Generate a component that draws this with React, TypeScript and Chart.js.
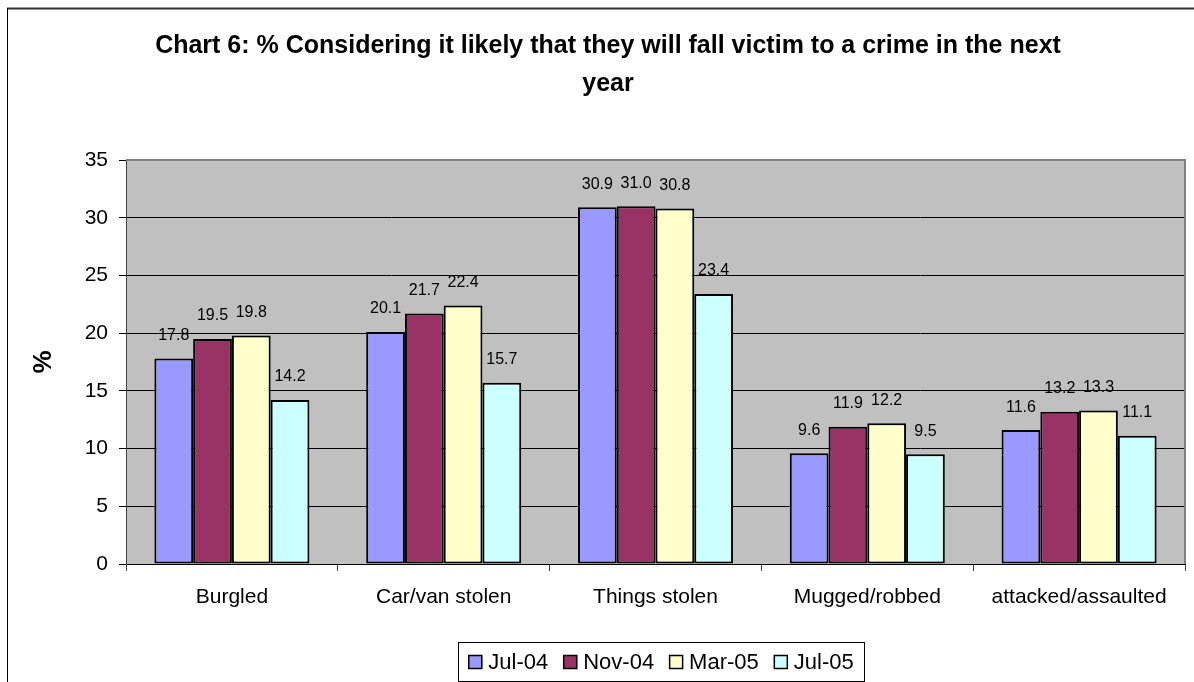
import React, { useEffect, useRef } from "react";
import { Chart, registerables } from "chart.js";

Chart.register(...registerables);

const categories = ["Burgled", "Car/van stolen", "Things stolen", "Mugged/robbed", "attacked/assaulted"];
const seriesNames = ["Jul-04", "Nov-04", "Mar-05", "Jul-05"];
const jul04 = [17.8, 20.1, 30.9, 9.6, 11.6];
const nov04 = [19.5, 21.7, 31.0, 11.9, 13.2];
const mar05 = [19.8, 22.4, 30.8, 12.2, 13.3];
const jul05 = [14.2, 15.7, 23.4, 9.5, 11.1];
const seriesColors = ["#9999FF", "#993366", "#FFFFCC", "#CCFFFF"];
const titleLines = ["Chart 6: % Considering it likely that they will fall victim to a crime in the next", "year"];
const yTitle = "%";

const FONT = "'Liberation Sans', Arial, sans-serif";

const framePlugin = {
  id: "frameAndPlot",
  beforeDraw(chart: any) {
    const { ctx, chartArea } = chart;
    ctx.save();
    ctx.fillStyle = "#FFFFFF";
    ctx.fillRect(0, 0, chart.width, chart.height);
    ctx.fillStyle = "#C0C0C0";
    ctx.fillRect(chartArea.left, chartArea.top, chartArea.right - chartArea.left, chartArea.bottom - chartArea.top);
    ctx.strokeStyle = "#333333";
    ctx.lineWidth = 2;
    ctx.beginPath();
    ctx.moveTo(7, 8.5);
    ctx.lineTo(chart.width, 8.5);
    ctx.stroke();
    ctx.strokeStyle = "#000000";
    ctx.lineWidth = 1;
    ctx.beginPath();
    ctx.moveTo(7.5, 8);
    ctx.lineTo(7.5, chart.height);
    ctx.stroke();
    ctx.restore();
  },
  afterDatasetsDraw(chart: any) {
    const { ctx, chartArea } = chart;
    ctx.save();
    // plot border (top/right)
    ctx.strokeStyle = "#808080";
    ctx.lineWidth = 2;
    ctx.beginPath();
    ctx.moveTo(chartArea.left, chartArea.top);
    ctx.lineTo(chartArea.right, chartArea.top);
    ctx.lineTo(chartArea.right, chartArea.bottom);
    ctx.stroke();
    // data labels
    ctx.fillStyle = "#000000";
    ctx.font = `16px ${FONT}`;
    ctx.textAlign = "center";
    ctx.textBaseline = "middle";
    chart.data.datasets.forEach((ds: any, i: number) => {
      const meta = chart.getDatasetMeta(i);
      meta.data.forEach((el: any, j: number) => {
        const v = ds.data[j];
        ctx.fillText(Number(v).toFixed(1), el.x, el.y - 23);
      });
    });
    ctx.restore();
  },
  afterDraw(chart: any) {
    const { ctx } = chart;
    ctx.save();
    // legend
    const fontSize = 22;
    ctx.font = `${fontSize}px ${FONT}`;
    const sq = 14;
    const gapSqText = 6;
    const gapItems = 15;
    const widths = seriesNames.map((n) => ctx.measureText(n).width);
    const total = widths.reduce((a, b) => a + b, 0) + seriesNames.length * (sq + gapSqText) + (seriesNames.length - 1) * gapItems;
    const boxL = 458, boxR = 864, boxT = 642, boxB = 681;
    const cx = (boxL + boxR) / 2;
    const cy = (boxT + boxB) / 2 + 0.5;
    ctx.strokeStyle = "#000000";
    ctx.lineWidth = 1;
    ctx.strokeRect(boxL + 0.5, boxT + 0.5, boxR - boxL, boxB - boxT);
    let x = cx - total / 2;
    ctx.textBaseline = "middle";
    ctx.textAlign = "left";
    seriesNames.forEach((n, i) => {
      ctx.fillStyle = seriesColors[i];
      ctx.fillRect(x, cy - sq / 2, sq, sq);
      ctx.strokeStyle = "#000000";
      ctx.lineWidth = 1.5;
      ctx.strokeRect(x + 0.5, cy - sq / 2 + 0.5, sq - 1, sq - 1);
      x += sq + gapSqText;
      ctx.fillStyle = "#000000";
      ctx.fillText(n, x, cy + 1);
      x += widths[i] + gapItems;
    });
    ctx.restore();
  },
};

export default function App() {
  const ref = useRef<HTMLCanvasElement | null>(null);
  useEffect(() => {
    if (!ref.current) return;
    const allSeries = [jul04, nov04, mar05, jul05];
    const chart = new Chart(ref.current, {
      type: "bar",
      data: {
        labels: categories,
        datasets: allSeries.map((d, i) => ({
          label: seriesNames[i],
          data: d,
          backgroundColor: seriesColors[i],
          borderColor: "#000000",
          borderWidth: 2,
          borderSkipped: false,
          categoryPercentage: 0.732,
          barPercentage: 1,
        })),
      },
      options: {
        responsive: false,
        animation: false,
        devicePixelRatio: 1,
        layout: { padding: { left: 31, right: 9, top: 0, bottom: 0 } },
        plugins: {
          legend: { display: false },
          tooltip: { enabled: false },
          title: {
            display: true,
            text: titleLines,
            color: "#000000",
            font: { family: FONT, size: 25, weight: "bold", lineHeight: 38 / 25 },
            padding: { top: 27, bottom: 57 },
          },
        },
        scales: {
          x: {
            grid: {
              display: true,
              drawOnChartArea: false,
              drawTicks: true,
              tickLength: 7,
              offset: true,
              color: "#404040",
            },
            border: { display: true, color: "#000000", width: 1 },
            ticks: {
              color: "#000000",
              font: { family: FONT, size: 21 },
              padding: 14,
              maxRotation: 0,
              autoSkip: false,
            },
            afterFit: (scale: any) => {
              scale.height = 118;
            },
          },
          y: {
            min: 0,
            max: 35,
            ticks: {
              stepSize: 5,
              color: "#000000",
              font: { family: FONT, size: 21 },
              padding: 11,
            },
            grid: {
              color: "#000000",
              lineWidth: 1,
              tickLength: 7,
            },
            border: { display: true, color: "#404040", width: 1 },
            title: {
              display: true,
              text: yTitle,
              color: "#000000",
              font: { family: FONT, size: 26, weight: "bold", lineHeight: 1 },
              padding: 0,
            },
            afterFit: (scale: any) => {
              scale.width = 95;
            },
          },
        },
      },
      plugins: [framePlugin],
    });
    return () => chart.destroy();
  }, []);
  return (
    <canvas
      ref={ref}
      width={1194}
      height={682}
      style={{ position: "fixed", left: 0, top: 0, width: 1194, height: 682 }}
    />
  );
}
